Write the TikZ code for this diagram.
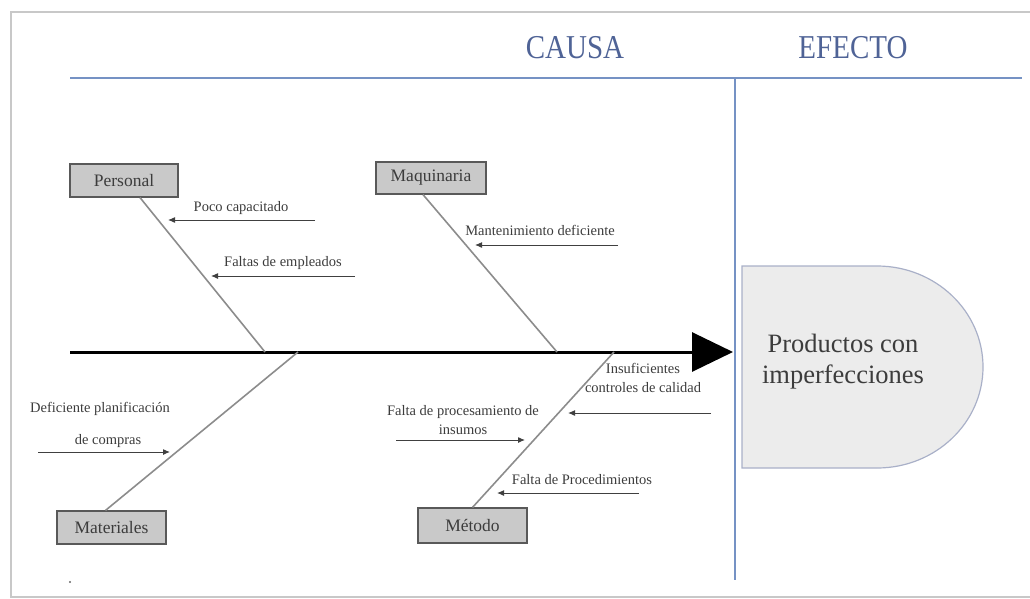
\documentclass[tikz,border=0pt]{standalone}
\usepackage{fontspec}
\setmainfont{Liberation Serif}
\usetikzlibrary{arrows.meta}
\definecolor{bluel}{HTML}{7592C4}
\definecolor{bluetext}{HTML}{4F6396}
\definecolor{framegray}{HTML}{C8C8C8}
\definecolor{boxfill}{HTML}{C9C9C9}
\definecolor{bonegray}{HTML}{8C8C8C}
\definecolor{effectfill}{HTML}{ECECEC}
\definecolor{effectdraw}{HTML}{A9B0C8}
\definecolor{txt}{HTML}{3C3C3C}
\begin{document}
\begin{tikzpicture}[x=1pt,y=-1pt,
  catbox/.style={draw=black!65, fill=boxfill, line width=1.2pt, inner sep=0pt,
    font=\fontsize{17.5}{20}\selectfont, text=txt},
  lbl/.style={font=\fontsize{14.5}{19}\selectfont, text=txt, inner sep=0pt, align=center},
  bone/.style={draw=bonegray, line width=1.6pt},
  sub/.style={draw=black!75, line width=1pt, -{Latex[length=7pt,width=6pt]}},
  head/.style={font=\fontsize{29}{32}\selectfont, text=bluetext, inner sep=0pt}]
\useasboundingbox (0,0) rectangle (1030,599);
% frame
\draw[framegray, line width=1.8pt] (1030,12) -- (11,12) -- (11,597) -- (1030,597);
% header
\node[head] (causa) at (575,48) {\scalebox{1}[1.15]{CAUSA}};
\node[head] (efecto) at (853,48) {\scalebox{1}[1.15]{EFECTO}};
\coordinate (topL) at (70,78);
\coordinate (topR) at (1022,78);
\coordinate (vTop) at (735,78);
\coordinate (vBot) at (735,580);
\draw[bluel, line width=2pt] (topL) -- (topR);
\draw[bluel, line width=1.8pt] (vTop) -- (vBot);
% effect shape
\draw[effectdraw, fill=effectfill, line width=1.2pt]
  (742,266) -- (877,266) arc[start angle=-90, end angle=90, x radius=106, y radius=101]
  -- (742,468) -- cycle;
\node[font=\fontsize{26.5}{31}\selectfont, text=txt, align=center] (effect) at (843,362) {Productos con\\imperfecciones};
% spine
\coordinate (tail) at (70,352);
\coordinate (tip) at (733,352);
\draw[black, line width=3pt, -{Triangle[length=41pt,width=39pt]}] (tail) -- (tip);
% category boxes
\node[catbox, minimum width=108pt, minimum height=33pt] (personal) at (124,180.5) {Personal};
\node[catbox, minimum width=110pt, minimum height=32pt] (maquinaria) at (431,178) {Maquinaria};
\node[catbox, minimum width=109pt, minimum height=33pt] (materiales) at (111.5,527.5) {Materiales};
\node[catbox, minimum width=109pt, minimum height=35pt] (metodo) at (472.5,525.5) {Método};
% bones
\coordinate (pS) at (265,352);
\coordinate (qS) at (557,352);
\coordinate (mS) at (298,352);
\coordinate (tS) at (614,352);
\draw[bone] (personal.south) ++(16,0) coordinate (pT) -- (pS);
\draw[bone] (maquinaria.south) ++(-8,0) coordinate (qT) -- (qS);
\draw[bone] (materiales.north) ++(-6,0) coordinate (mT) -- (mS);
\draw[bone] (metodo.north) coordinate (tT) -- (tS);
% sub-causes Personal
\node[lbl] (poco) at (241,208) {Poco capacitado};
\coordinate (pocoA) at (315,220);
\coordinate (pocoB) at (168,220);
\draw[sub] (pocoA) -- (pocoB);
\node[lbl] (faltas) at (283,263) {Faltas de empleados};
\coordinate (faltasA) at (355,276);
\coordinate (faltasB) at (211,276);
\draw[sub] (faltasA) -- (faltasB);
% Maquinaria
\node[lbl] (mant) at (540,230) {Mantenimiento deficiente};
\coordinate (mantA) at (618,245);
\coordinate (mantB) at (475,245);
\draw[sub] (mantA) -- (mantB);
% Materiales
\node[lbl] (defic) at (100,409) {Deficiente planificación};
\node[lbl] (compras) at (108,441) {de compras};
\coordinate (defA) at (38,452);
\coordinate (defB) at (170,452);
\draw[sub] (defA) -- (defB);
% Metodo
\node[lbl] (insuf) at (643,378) {Insuficientes\\controles de calidad};
\coordinate (insA) at (711,413);
\coordinate (insB) at (568,413);
\draw[sub] (insA) -- (insB);
\node[lbl] (proc) at (463,420) {Falta de procesamiento de\\insumos};
\coordinate (procA) at (396,440);
\coordinate (procB) at (525,440);
\draw[sub] (procA) -- (procB);
\node[lbl] (proced) at (582,480) {Falta de Procedimientos};
\coordinate (procdA) at (639,493);
\coordinate (procdB) at (497,493);
\draw[sub] (procdA) -- (procdB);
% small dot
\fill[black!60] (70,582) circle (1.2pt);
\end{tikzpicture}
\end{document}
